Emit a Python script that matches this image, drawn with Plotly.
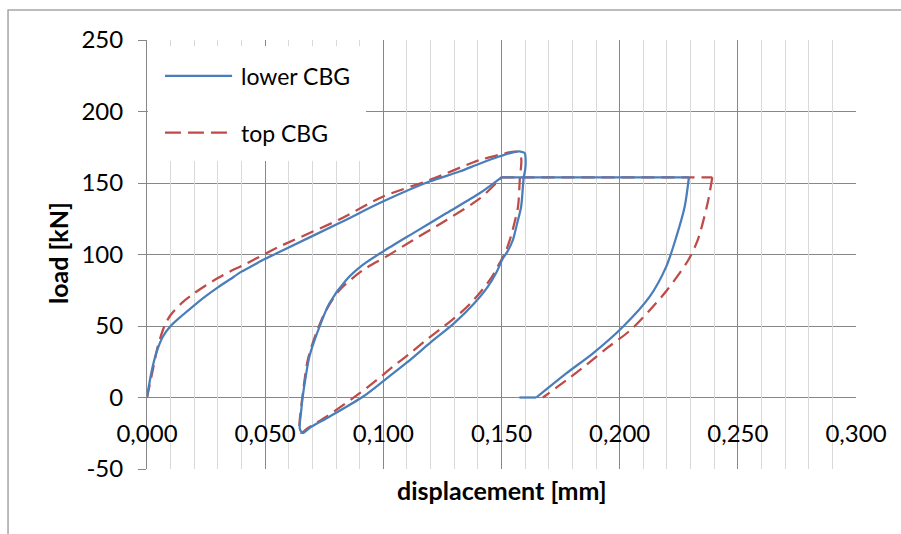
import plotly.graph_objects as go

# ---- data ----
# lower CBG: loading / unloading / reloading loop
lower_loop_x = [0.0, 0.0018, 0.0039, 0.0067, 0.010, 0.015, 0.020, 0.025, 0.030, 0.035, 0.040, 0.045,
                0.050, 0.056, 0.0814, 0.0998, 0.1195, 0.1322, 0.1407, 0.1490, 0.1545, 0.1580, 0.1598,
                0.1602, 0.1600, 0.1594, 0.1583, 0.1565, 0.1548, 0.1525, 0.1505, 0.148, 0.144, 0.138,
                0.130, 0.120, 0.110, 0.100, 0.0913, 0.0772, 0.0690, 0.0660, 0.0647, 0.0652, 0.0659,
                0.0672, 0.0687, 0.073, 0.0772, 0.0843, 0.0913, 0.0998, 0.1125, 0.1266, 0.1407, 0.150]
lower_loop_y = [0, 17, 31, 42.5, 50, 57.5, 64.5, 71, 77, 82.5, 88, 92.5,
                97, 101.8, 122, 137, 151, 158, 163.5, 168.5, 171.3, 172, 171,
                166, 159, 154, 133.4, 121, 110, 102, 97, 88, 77, 65,
                52, 38.5, 24.5, 11.5, 0.5, -13.4, -21, -24.8, -22, -10, 0.6,
                15, 28.5, 49.5, 65.9, 82.2, 92.7, 102, 114.8, 128.8, 142.8, 154]
lower_hold_x = [0.150, 0.2293]
lower_hold_y = [154, 154]
lower_unload_x = [0.2293, 0.2275, 0.224, 0.2197, 0.2127, 0.2014, 0.1887, 0.1774, 0.1647]
lower_unload_y = [154, 133.4, 112.5, 91.5, 70.5, 49.5, 30.9, 16.9, 0]
lower_tail_x = [0.1647, 0.1576]
lower_tail_y = [0, 0]

# top CBG
top_loop_x = [0.0, 0.0025, 0.0046, 0.0074, 0.010, 0.015, 0.020, 0.025, 0.030, 0.035, 0.040, 0.045,
              0.050, 0.056, 0.0814, 0.0997, 0.1195, 0.1407, 0.1500, 0.1545, 0.1565, 0.1578, 0.1584,
              0.1582, 0.1578, 0.157, 0.1553, 0.1535, 0.1515, 0.1492, 0.146, 0.142, 0.137, 0.1322,
              0.125, 0.118, 0.111, 0.104, 0.097, 0.090, 0.0759, 0.0680, 0.0652, 0.0645, 0.0650,
              0.0656, 0.068, 0.0716, 0.0758, 0.0814, 0.0913, 0.1012, 0.1125, 0.1266, 0.1407, 0.1478,
              0.150]
top_loop_y = [0, 19.6, 35.9, 50, 57.7, 66.5, 72.9, 78.5, 83.5, 88, 92, 96.2,
              100.5, 105.5, 124.5, 140.4, 152, 166, 170, 171.8, 171.8, 170.5, 166,
              160, 154, 133.4, 121, 110, 101, 94, 84.5, 75.5, 66, 58.5,
              49, 40, 30.5, 21.5, 12, 3, -13.4, -21.5, -24.8, -20.4, -10,
              -1.7, 26, 45, 61, 75, 89, 98.5, 110, 124, 139, 150,
              154]
top_hold_x = [0.150, 0.2392]
top_hold_y = [154, 154]
top_unload_x = [0.2392, 0.2372, 0.2330, 0.2290, 0.2200, 0.2127, 0.2045, 0.1950, 0.1860, 0.1774,
                0.1675]
top_unload_y = [154, 135.8, 110, 96, 75, 61, 47, 35, 23, 12, 0]

series_names = ["lower CBG", "top CBG"]
y_ticks = [-50, 0, 50, 100, 150, 200, 250]
y_tick_text = ["-50", "0", "50", "100", "150", "200", "250"]
x_minor_ticks = [round(i * 0.01, 2) for i in range(1, 30) if i % 5 != 0]

BLUE = "#4a7ebb"
RED = "#be4b48"
MAJ = "#878787"
MIN = "#d9d9d9"
FONT = "Lato"
LW = 2.25
DASH = "13px,7px"

fig = go.Figure()

# carrier for the minor-grid overlay axis (no visible mark)
fig.add_trace(go.Scatter(x=[None], y=[None], xaxis="x2", yaxis="y", mode="lines",
                         showlegend=False, hoverinfo="skip"))


def add(xs, ys, color, dash, shape):
    fig.add_trace(go.Scatter(x=xs, y=ys, mode="lines", showlegend=False, hoverinfo="x+y",
                             line=dict(color=color, width=LW, dash=dash, shape=shape,
                                       smoothing=0.8 if shape == "spline" else None)))


add(top_loop_x, top_loop_y, RED, DASH, "spline")
add(top_hold_x, top_hold_y, RED, DASH, "linear")
add(top_unload_x, top_unload_y, RED, DASH, "spline")
add(lower_loop_x, lower_loop_y, BLUE, "solid", "spline")
add(lower_hold_x, lower_hold_y, BLUE, "solid", "linear")
add(lower_unload_x, lower_unload_y, BLUE, "solid", "spline")
add(lower_tail_x, lower_tail_y, BLUE, "solid", "linear")

# legend box (white, above gridlines, below traces)
fig.add_shape(type="rect", xref="x", yref="y", x0=0.0004, x1=0.0927, y0=165.4, y1=245.8,
              fillcolor="white", line=dict(width=0), layer="between")
# legend samples
fig.add_shape(type="line", xref="x", yref="y", x0=0.0076, x1=0.0360, y0=225, y1=225,
              line=dict(color=BLUE, width=LW), layer="above")
fig.add_shape(type="line", xref="x", yref="y", x0=0.0076, x1=0.0360, y0=185.2, y1=185.2,
              line=dict(color=RED, width=LW, dash="16px,7px"), layer="above")
fig.add_annotation(x=0.0389, y=225, xref="x", yref="y", text=series_names[0], showarrow=False,
                   xanchor="left", yanchor="middle", font=dict(family=FONT, size=23, color="black"))
fig.add_annotation(x=0.0389, y=185.2, xref="x", yref="y", text=series_names[1], showarrow=False,
                   xanchor="left", yanchor="middle", font=dict(family=FONT, size=23, color="black"))

# outer chart frame (partially cut off)
fig.add_shape(type="rect", xref="paper", yref="paper", x0=-0.196, x1=1.3, y0=-0.3, y1=1.0699,
              line=dict(color="#a6a6a6", width=1.5), fillcolor="rgba(0,0,0,0)", layer="below")

# axis titles
fig.add_annotation(x=0.5, y=-0.049, xref="paper", yref="paper", text="<b>displacement [mm]</b>",
                   showarrow=False, xanchor="center", yanchor="middle",
                   font=dict(family=FONT, size=25, color="black"))
fig.add_annotation(x=-0.1255, y=0.5035, xref="paper", yref="paper", text="<b>load [kN]</b>",
                   showarrow=False, xanchor="center", yanchor="middle", textangle=-90,
                   font=dict(family=FONT, size=25, color="black"))

fig.update_layout(
    width=901, height=534,
    margin=dict(l=147, r=45, t=40, b=65),
    paper_bgcolor="white", plot_bgcolor="white",
    separators=", ",
    font=dict(family=FONT, size=24, color="black"),
    xaxis=dict(range=[0, 0.3], tickmode="linear", tick0=0, dtick=0.05, tickformat=".3f",
               showgrid=True, gridcolor=MAJ, gridwidth=1,
               anchor="free", position=50 / 300, ticks="", showline=False, zeroline=False,
               ticklabelstandoff=19, tickfont=dict(family=FONT, size=24, color="black")),
    xaxis2=dict(range=[0, 0.3], overlaying="x", anchor="y", side="bottom",
                tickmode="array", tickvals=x_minor_ticks, showticklabels=False, ticks="",
                showgrid=True, gridcolor=MIN, gridwidth=1, zeroline=False, showline=False),
    yaxis=dict(range=[-50, 250], tickmode="array", tickvals=y_ticks, ticktext=y_tick_text,
               showgrid=True, gridcolor=MAJ, gridwidth=1, zeroline=False,
               ticks="outside", ticklen=8, tickcolor=MAJ, tickwidth=1,
               ticklabelstandoff=10,
               showline=True, linecolor=MAJ, linewidth=1,
               tickfont=dict(family=FONT, size=24, color="black")),
)

fig.write_html("out.html")
